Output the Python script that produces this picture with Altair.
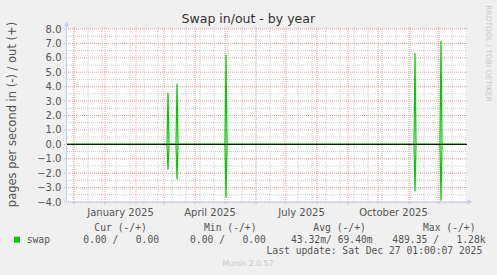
import altair as alt
import pandas as pd

# ---------------- data ----------------
dates = ["2024-11-24", "2025-03-04", "2025-03-05", "2025-03-06",
         "2025-03-13", "2025-03-14", "2025-03-15",
         "2025-05-01", "2025-05-02", "2025-05-03",
         "2025-11-06", "2025-11-07", "2025-11-08",
         "2025-12-02", "2025-12-03", "2025-12-04", "2025-12-28"]
out_vals = [0, 0, 3.58, 0, 0, 4.2, 0, 0, 6.2, 0, 0, 6.32, 0, 0, 7.18, 0, 0]
in_vals = [0, 0, -1.75, 0, 0, -2.44, 0, 0, -3.7, 0, 0, -3.27, 0, 0, -3.89, 0, 0]

x_domain = ["2024-11-24", "2025-12-29"]
y_ticks = [-4, -3, -2, -1, 0, 1, 2, 3, 4, 5, 6, 7, 8]
y_minor = [-3.5, -2.5, -1.5, -0.5, 0.5, 1.5, 2.5, 3.5, 4.5, 5.5, 6.5, 7.5]
month_lines = ["2024-12-01", "2025-01-01", "2025-02-01", "2025-03-01", "2025-04-01",
               "2025-05-01", "2025-06-01", "2025-07-01", "2025-08-01", "2025-09-01",
               "2025-10-01", "2025-11-01", "2025-12-01"]
minor_lines = [d.strftime("%Y-%m-%d") for d in pd.date_range("2024-12-01", "2025-12-28", freq="14D")]
label_dates = ["2025-01-16T12:00:00Z", "2025-04-16T00:00:00Z", "2025-07-16T12:00:00Z", "2025-10-16T12:00:00Z"]
label_text = ["January 2025", "April 2025", "July 2025", "October 2025"]

legend_cols = ["Cur (-/+)", "Min (-/+)", "Avg (-/+)", "Max (-/+)"]
legend_vals = ["0.00 /   0.00", "0.00 /   0.00", "43.32m/ 69.40m", "489.35 /   1.28k"]
series_name = "swap"

W, H = 400, 173
L, T = 67, 29

xs = alt.Scale(domain=x_domain, type="utc")
ys = alt.Scale(domain=[-4, 8], nice=False, zero=False)

GREEN = "#00CC00"
RED = "#E8A0A0"
GREY = "#CCCCCC"
AXIS = "#C4CAEE"
TXT = "#555555"

y_axis = alt.Axis(
    values=y_ticks, format=".1f", grid=False, ticks=False, domain=False,
    labelColor=TXT, labelFontSize=10, labelFont="DejaVu Sans", labelPadding=6,
    title="pages per second in (-) / out (+)", titleFont="DejaVu Sans",
    titleFontSize=11.5, titleFontWeight="normal", titleColor=TXT,
    titleX=-55, titleY=H / 2 - 1.5, titleAngle=-90, titleAlign="center", titleBaseline="middle")

df = pd.DataFrame({"date": dates, "out": out_vals, "in": in_vals})
long = df.melt("date", var_name="dir", value_name="v")

def X(field):
    return alt.X(field, type="temporal", scale=xs, axis=None)

def Y(field):
    return alt.Y(field, type="quantitative", scale=ys, axis=y_axis)

minor_v = alt.Chart(pd.DataFrame({"d": minor_lines})).mark_rule(
    color=GREY, strokeDash=[1, 1], strokeWidth=1).encode(
    x=X("d"), y=alt.value(-2), y2=alt.value(H + 2))
minor_h = alt.Chart(pd.DataFrame({"v": y_minor})).mark_rule(
    color=GREY, strokeDash=[1, 1], strokeWidth=1).encode(
    y=Y("v"), x=alt.value(0), x2=alt.value(W))
major_v = alt.Chart(pd.DataFrame({"d": month_lines})).mark_rule(
    color=RED, strokeDash=[1, 1], strokeWidth=1).encode(
    x=X("d"), y=alt.value(-2), y2=alt.value(H + 3))
major_h = alt.Chart(pd.DataFrame({"v": y_ticks})).mark_rule(
    color=RED, strokeDash=[1, 1], strokeWidth=1).encode(
    y=Y("v"), x=alt.value(-3), x2=alt.value(W))

lines = alt.Chart(long).mark_line(color=GREEN, strokeWidth=1.2, interpolate="linear").encode(
    x=X("date"), y=Y("v"), detail="dir:N")

zero = alt.Chart(pd.DataFrame({"v": [0]})).mark_rule(color="black", strokeWidth=1).encode(
    y=Y("v"), x=alt.value(0), x2=alt.value(W))

left_axis = alt.Chart(pd.DataFrame({"a": [0]})).mark_rule(color=AXIS, strokeWidth=1).encode(
    x=alt.value(-0.5), y=alt.value(H), y2=alt.value(-4))
bottom_axis = alt.Chart(pd.DataFrame({"a": [0]})).mark_rule(color=AXIS, strokeWidth=1).encode(
    x=alt.value(-0.5), x2=alt.value(W + 1), y=alt.value(H))
up_arrow = alt.Chart(pd.DataFrame({"a": [0]})).mark_point(
    shape="triangle-up", filled=True, color=AXIS, size=28, opacity=1).encode(
    x=alt.value(-0.5), y=alt.value(-5))
right_arrow = alt.Chart(pd.DataFrame({"a": [0]})).mark_point(
    shape="triangle-right", filled=True, color=AXIS, size=28, opacity=1).encode(
    x=alt.value(W + 3), y=alt.value(H))

xlabels = alt.Chart(pd.DataFrame({"d": label_dates, "t": label_text})).mark_text(
    font="DejaVu Sans", fontSize=10, color=TXT, baseline="middle", align="center").encode(
    x=X("d"), y=alt.value(H + 10.5), text="t:N")

def txt(s, x, y, size=10, color=TXT, font="DejaVu Sans", align="left", angle=0):
    s = s.replace(" ", "\u00a0")
    return alt.Chart(pd.DataFrame({"t": [s]})).mark_text(
        font=font, fontSize=size, color=color, align=align, baseline="middle", angle=angle).encode(
        text="t:N", x=alt.value(x - L), y=alt.value(y - T))

title = txt("Swap in/out - by year", 248.3, 19, size=12.5, color="#333333", align="center")
rrd = txt("RRDTOOL / TOBI OETIKER", 488, 53.5, size=7.5, color="#C8C8C8", align="center", angle=90)

MONO = "DejaVu Sans Mono"
hdr_x = [94.3, 204, 313.3, 423]
val_x = [83.3, 190, 291, 392.3]
legend_layers = []
for s, x in zip(legend_cols, hdr_x):
    legend_layers.append(txt(s, x, 227.7, size=9.7, font=MONO))
for s, x in zip(legend_vals, val_x):
    legend_layers.append(txt(s, x, 239.7, size=9.7, font=MONO))
legend_layers.append(txt(series_name, 26.7, 239.7, size=9.7, font=MONO))
legend_layers.append(txt("Last update: Sat Dec 27 01:00:07 2025", 482.3, 251.3, size=9.7, font=MONO, align="right"))
legend_layers.append(txt("Munin 2.0.57", 248, 264.3, size=7.8, color="#C8C8C8", align="center"))

swatch = alt.Chart(pd.DataFrame({"n": [series_name]})).mark_square(
    color=GREEN, size=36, opacity=1).encode(x=alt.value(17 - L), y=alt.value(239.7 - T))

chart = alt.layer(
    minor_v, minor_h, major_v, major_h, lines, zero,
    left_axis, bottom_axis, up_arrow, right_arrow, xlabels, title, rrd, swatch,
    *legend_layers
).properties(
    width=W, height=H,
    background="#F0F0F0",
    padding={"left": L, "top": T, "right": 497 - L - W, "bottom": 275 - T - H},
    autosize=alt.AutoSizeParams(type="none"),
).configure_view(fill="white", stroke=None)

chart.save("out.html", embed_options={"renderer": "svg", "actions": False})
